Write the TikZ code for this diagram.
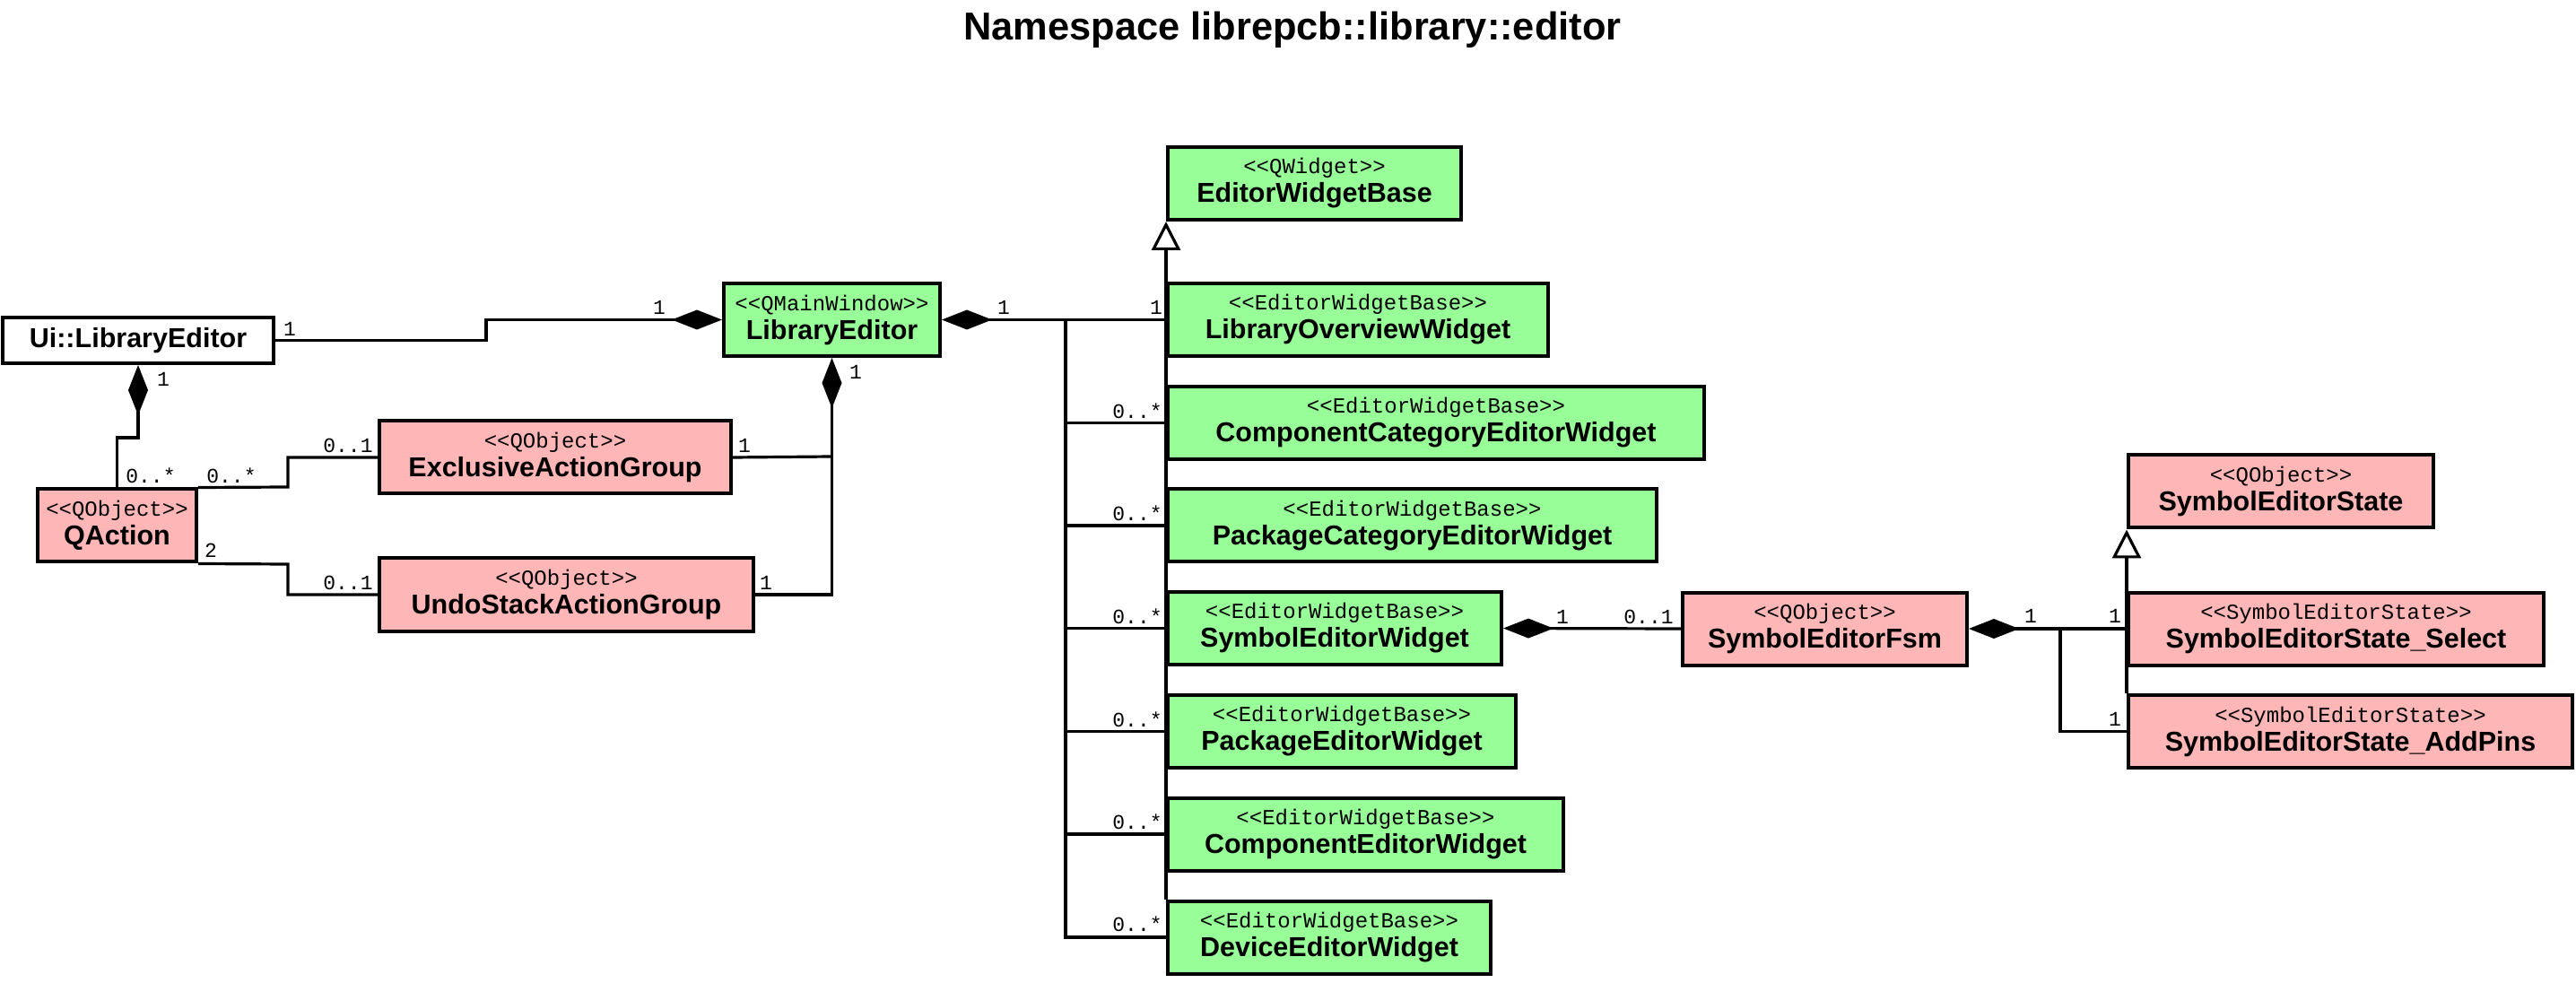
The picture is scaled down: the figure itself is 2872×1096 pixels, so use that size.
\documentclass[tikz,border=0pt]{standalone}
\usepackage{fontspec}
\setmainfont{Liberation Sans}
\setmonofont{Liberation Mono}
\usetikzlibrary{arrows.meta}
\definecolor{cgreen}{RGB}{152,255,152}
\definecolor{cpink}{RGB}{255,182,182}
\newcommand{\umlst}[1]{{\ttfamily\fontsize{12}{16}\selectfont #1}}
\newcommand{\umlnm}[1]{{\bfseries\fontsize{15.25}{16}\selectfont #1}}
\begin{document}
\begin{tikzpicture}[x=0.5pt,y=-0.5pt,
  cls/.style={draw=black, line width=2pt, rectangle, inner sep=0pt, align=center,
    font=\fontsize{12}{16}\selectfont, minimum height=40.5pt},
  grn/.style={cls, fill=cgreen},
  pnk/.style={cls, fill=cpink},
  conn/.style={line width=1.6pt, line join=miter},
  compstart/.style={conn, {Diamond[length=28pt,width=11pt]}-},
  compend/.style={conn, -{Diamond[length=28pt,width=11pt]}},
  gen/.style={conn, -{Triangle[open,fill=white,length=16pt,width=16pt]}},
  lbl/.style={font=\ttfamily\fontsize{11.5}{12}\selectfont, inner sep=0pt}
]
\useasboundingbox (0,0) rectangle (2872,1096);

\node[font=\bfseries\fontsize{21.7}{26}\selectfont, inner sep=0pt] (title) at (1441,33) {Namespace librepcb::library::editor};

% boxes
\node[cls, fill=white, minimum width=151pt, minimum height=25.5pt] (ui) at (154,379.5) {\umlnm{Ui::LibraryEditor}};
\node[grn, minimum width=120.5pt] (le) at (927.5,356.5) {\umlst{<{}<QMainWindow>{}>}\\\umlnm{LibraryEditor}};
\node[pnk, minimum width=88.5pt] (qa) at (130.5,586) {\umlst{<{}<QObject>{}>}\\\umlnm{QAction}};
\node[pnk, minimum width=196pt] (eag) at (619,510) {\umlst{<{}<QObject>{}>}\\\umlnm{ExclusiveActionGroup}};
\node[pnk, minimum width=208.5pt] (usag) at (631.5,663) {\umlst{<{}<QObject>{}>}\\\umlnm{UndoStackActionGroup}};

\node[grn, minimum width=163.5pt] (ewb) at (1465.5,204.5) {\umlst{<{}<QWidget>{}>}\\\umlnm{EditorWidgetBase}};
\node[grn, minimum width=212pt] (low) at (1514,356.5) {\umlst{<{}<EditorWidgetBase>{}>}\\\umlnm{LibraryOverviewWidget}};
\node[grn, minimum width=299pt] (ccew) at (1601,471.5) {\umlst{<{}<EditorWidgetBase>{}>}\\\umlnm{ComponentCategoryEditorWidget}};
\node[grn, minimum width=272.5pt] (pcew) at (1574.5,586) {\umlst{<{}<EditorWidgetBase>{}>}\\\umlnm{PackageCategoryEditorWidget}};
\node[grn, minimum width=186pt] (sew) at (1488,700.5) {\umlst{<{}<EditorWidgetBase>{}>}\\\umlnm{SymbolEditorWidget}};
\node[grn, minimum width=194pt] (pew) at (1496,815.5) {\umlst{<{}<EditorWidgetBase>{}>}\\\umlnm{PackageEditorWidget}};
\node[grn, minimum width=220.5pt] (cew) at (1522.5,930) {\umlst{<{}<EditorWidgetBase>{}>}\\\umlnm{ComponentEditorWidget}};
\node[grn, minimum width=180pt] (dew) at (1482,1045) {\umlst{<{}<EditorWidgetBase>{}>}\\\umlnm{DeviceEditorWidget}};

\node[pnk, minimum width=158.5pt] (fsm) at (2034.5,701) {\umlst{<{}<QObject>{}>}\\\umlnm{SymbolEditorFsm}};
\node[pnk, minimum width=170pt] (ses) at (2543,548) {\umlst{<{}<QObject>{}>}\\\umlnm{SymbolEditorState}};
\node[pnk, minimum width=231.5pt] (sess) at (2604.5,701) {\umlst{<{}<SymbolEditorState>{}>}\\\umlnm{SymbolEditorState\_Select}};
\node[pnk, minimum width=247.5pt] (sesa) at (2620.5,815.5) {\umlst{<{}<SymbolEditorState>{}>}\\\umlnm{SymbolEditorState\_AddPins}};

% junction points
\coordinate (j1) at (542,379.5);
\coordinate (j2) at (927.5,509);
\coordinate (j3) at (321,543);
\coordinate (j4) at (321,629);
\coordinate (jw) at (1188,356.5);
\coordinate (jf) at (2297,701);
\coordinate (jq) at (130.5,488);

% connectors
\draw[compend] (ui.east) -- (j1) |- (le.west);
\draw[compend] (qa.north) -- (jq) -| (ui.south);
\draw[conn] (qa.north east) -- (j3) |- (eag.west);
\draw[conn] (qa.south east) -- (j4) |- (usag.west);
\draw[conn] (eag.east) -- (j2);
\draw[compend] (usag.east) -| (le.south);
\draw[compstart] (le.east) -- (low.west);
\draw[conn] (jw) |- (ccew.west) (jw) |- (pcew.west) (jw) |- (sew.west)
  (jw) |- (pew.west) (jw) |- (cew.west) (jw) |- (dew.west);
\draw[gen] (dew.north west) -- (ewb.south west);
\draw[compstart] (sew.east) -- (fsm.west);
\draw[compstart] (fsm.east) -- (sess.west);
\draw[conn] (jf) |- (sesa.west);
\draw[gen] (sesa.north west) -- (ses.south west);

% multiplicities
\node[lbl] (m1) at (323,367) {1};
\node[lbl] (m2) at (735,343) {1};
\node[lbl] (m3) at (182,423) {1};
\node[lbl] (m4) at (168,530) {0..*};
\node[lbl] (m5) at (258,530) {0..*};
\node[lbl] (m6) at (388,497) {0..1};
\node[lbl] (m7) at (830,497) {1};
\node[lbl] (m8) at (954,415) {1};
\node[lbl] (m9) at (854,650) {1};
\node[lbl] (m10) at (388,650) {0..1};
\node[lbl] (m11) at (235,614) {2};
\node[lbl] (m12) at (1119,343) {1};
\node[lbl] (m13) at (1289,343) {1};
\node[lbl] (m14) at (1268,458) {0..*};
\node[lbl] (m15) at (1268,572) {0..*};
\node[lbl] (m16) at (1268,687) {0..*};
\node[lbl] (m17) at (1268,802) {0..*};
\node[lbl] (m18) at (1268,916) {0..*};
\node[lbl] (m19) at (1268,1030) {0..*};
\node[lbl] (m20) at (1742,688) {1};
\node[lbl] (m21) at (1838,688) {0..1};
\node[lbl] (m22) at (2264,687) {1};
\node[lbl] (m23) at (2358,687) {1};
\node[lbl] (m24) at (2358,802) {1};
\end{tikzpicture}
\end{document}
